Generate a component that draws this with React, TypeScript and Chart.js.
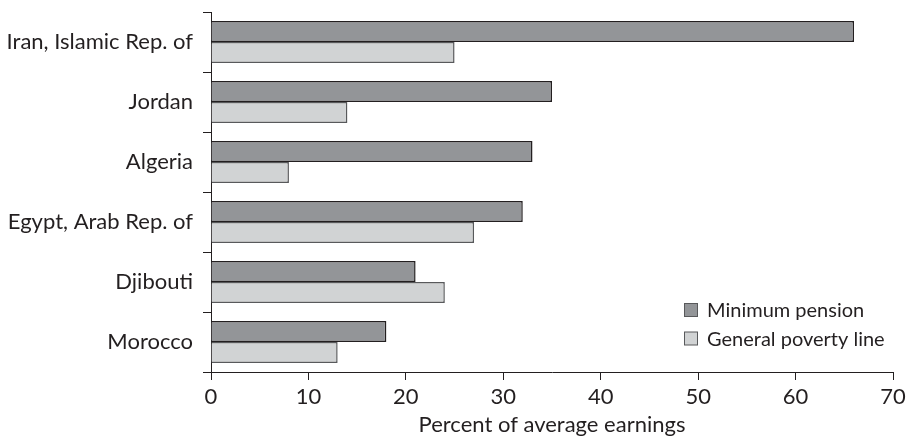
import React, { useEffect, useRef } from "react";
import { Chart, registerables } from "chart.js";

Chart.register(...registerables);

const categories = [
  "Iran, Islamic Rep. of",
  "Jordan",
  "Algeria",
  "Egypt, Arab Rep. of",
  "Djibouti",
  "Morocco",
];
const minimumPension = [66, 35, 33, 32, 21, 18];
const generalPovertyLine = [25, 14, 8, 27, 24, 13];
const seriesNames = ["Minimum pension", "General poverty line"];
const xMin = 0;
const xMax = 70;
const xStep = 10;
const xTitle = "Percent of average earnings";

const INK = "#231f20";
const DARK = "#939598";
const LIGHT = "#d1d3d4";
const FONT = "Lato, 'Open Sans', sans-serif";

const legendPlugin = {
  id: "customLegend",
  afterDraw(chart: any) {
    const ctx = chart.ctx;
    const colors = [DARK, LIGHT];
    const x = 684.5;
    const ys = [310, 338.5];
    ctx.save();
    ctx.font = `20px ${FONT}`;
    ctx.textBaseline = "middle";
    ctx.textAlign = "left";
    seriesNames.forEach((name, i) => {
      ctx.fillStyle = colors[i];
      ctx.fillRect(x, ys[i] - 6.5, 13, 13);
      ctx.strokeStyle = "#58595b";
      ctx.lineWidth = 1;
      ctx.strokeRect(x, ys[i] - 6.5, 13, 13);
      ctx.fillStyle = INK;
      ctx.fillText(name, 707, ys[i] + 1);
    });
    ctx.restore();
  },
};

export default function App() {
  const ref = useRef<HTMLCanvasElement | null>(null);
  useEffect(() => {
    if (!ref.current) return;
    const chart = new Chart(ref.current, {
      type: "bar",
      data: {
        labels: categories,
        datasets: [
          {
            label: seriesNames[0],
            data: minimumPension,
            backgroundColor: DARK,
            borderColor: INK,
            borderWidth: 1.5,
          },
          {
            label: seriesNames[1],
            data: generalPovertyLine,
            backgroundColor: LIGHT,
            borderColor: "#58595b",
            borderWidth: 1.5,
          },
        ],
      },
      options: {
        indexAxis: "y",
        animation: false,
        responsive: false,
        devicePixelRatio: 1,
        maintainAspectRatio: false,
        categoryPercentage: 0.7,
        barPercentage: 1.0,
        layout: { padding: { left: 0, right: 14, top: 12, bottom: 0 } },
        plugins: {
          legend: { display: false },
          tooltip: { enabled: false },
        },
        scales: {
          x: {
            type: "linear",
            min: xMin,
            max: xMax,
            ticks: {
              stepSize: xStep,
              color: INK,
              font: { family: FONT, size: 22 },
              padding: 4,
            },
            grid: {
              drawOnChartArea: false,
              drawTicks: true,
              tickLength: 8,
              color: INK,
            },
            border: { display: true, color: INK, width: 1 },
            title: {
              display: true,
              text: xTitle,
              color: INK,
              font: { family: FONT, size: 22 },
              padding: { top: 0, bottom: 0 },
            },
            afterFit(scale: any) {
              scale.height = 66;
              scale.paddingLeft = 0;
              scale.paddingRight = 0;
            },
          },
          y: {
            ticks: {
              color: INK,
              font: { family: FONT, size: 22 },
              padding: 10,
            },
            grid: {
              drawOnChartArea: false,
              drawTicks: true,
              tickLength: 8,
              color: INK,
              offset: true,
            },
            border: { display: true, color: INK, width: 1 },
            afterFit(scale: any) {
              scale.width = 211;
              scale.paddingTop = 0;
              scale.paddingBottom = 0;
            },
          },
        },
      },
      plugins: [legendPlugin],
    });
    return () => chart.destroy();
  }, []);
  return (
    <div style={{ position: "fixed", left: 0, top: 0, width: 907, height: 438, background: "#fff" }}>
      <canvas ref={ref} width={907} height={438} />
    </div>
  );
}
